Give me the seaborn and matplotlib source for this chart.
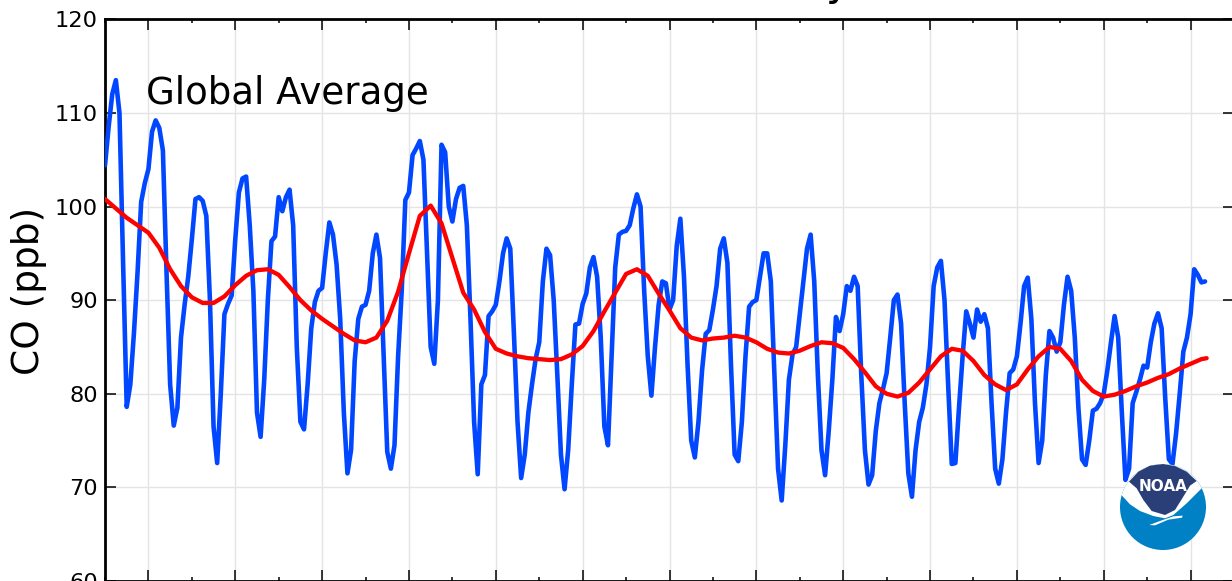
import numpy as np
import pandas as pd
import matplotlib
matplotlib.use("Agg")
import matplotlib.pyplot as plt
from matplotlib.patches import Circle, Polygon
from matplotlib.ticker import MultipleLocator
import seaborn as sns

co_2001 = [104.4, 108.5, 112, 113.5, 110, 94, 78.6, 81, 86.5, 93, 100.5, 102.5]
co_2002 = [104, 108, 109.2, 108.4, 106, 93, 81, 76.6, 78.5, 86, 89.5, 92.5]
co_2003 = [96.5, 100.8, 101, 100.6, 99, 90, 76.5, 72.6, 80, 88.5, 89.6, 90.5]
co_2004 = [96.5, 101.5, 103, 103.2, 98, 91, 78, 75.4, 81.5, 90, 96.3, 96.8]
co_2005 = [101, 99.5, 101, 101.8, 98, 85, 77, 76.2, 81, 87, 89.8, 91]
co_2006 = [91.3, 95, 98.3, 97, 93.8, 88, 78, 71.5, 74, 83.5, 88, 89.3]
co_2007 = [89.5, 91, 95, 97, 94.5, 84, 73.8, 72, 74.5, 84, 91, 100.7]
co_2008 = [101.5, 105.5, 106.2, 107, 105, 95, 85, 83.2, 90, 106.6, 105.8, 100]
co_2009 = [98.4, 100.8, 102, 102.2, 98, 88, 77, 71.4, 81, 82, 88.3, 88.8]
co_2010 = [89.5, 92, 95, 96.6, 95.5, 86.5, 77, 71, 73.5, 78, 81, 83.7]
co_2011 = [85.5, 92, 95.5, 94.8, 90, 82, 73.5, 69.8, 74, 81, 87.4, 87.5]
co_2012 = [89.6, 90.7, 93.5, 94.6, 92.5, 86, 76.5, 74.5, 84, 93.5, 97, 97.3]
co_2013 = [97.4, 98, 99.8, 101.3, 100, 91, 84, 79.8, 85, 89.5, 92, 91.8]
co_2014 = [89, 90, 95.8, 98.7, 92.5, 83, 75, 73.2, 77, 82.5, 86.4, 86.8]
co_2015 = [89, 91.5, 95.5, 96.6, 94, 83, 73.5, 72.8, 77, 84, 89.3, 89.8]
co_2016 = [90, 92.5, 95, 95, 92, 82, 72, 68.6, 74.5, 81.5, 84.2, 85]
co_2017 = [88.5, 92, 95.5, 97, 92, 82, 74, 71.3, 76, 81.5, 88.2, 86.7]
co_2018 = [88.5, 91.5, 91, 92.5, 91.5, 82, 74, 70.3, 71.3, 76, 79, 80.5]
co_2019 = [82.2, 86, 90, 90.6, 87.5, 79, 71.5, 69, 74, 77, 78.5, 81]
co_2020 = [85, 91.5, 93.5, 94.2, 90, 81, 72.5, 72.6, 78.5, 84, 88.8, 87.5]
co_2021 = [86, 89, 87.7, 88.5, 87, 79, 72, 70.4, 73, 78, 82.2, 82.6]
co_2022 = [84, 87.5, 91.5, 92.4, 88, 79, 72.6, 75, 82, 86.7, 86, 84.5]
co_2023 = [85.5, 89.5, 92.5, 91, 86, 78.5, 73, 72.4, 75, 78.2, 78.4, 79]
co_2024 = [80, 82.5, 85.5, 88.3, 86, 78, 70.8, 72, 79, 80.2, 81.5, 83]
co_2025 = [82.8, 85.5, 87.5, 88.6, 87, 79.5, 73, 72.5, 75.8, 80, 84.5, 86]
co_2026 = [88.5, 93.3, 92.7, 91.9, 92]
monthly_by_year = [co_2001, co_2002, co_2003, co_2004, co_2005, co_2006, co_2007,
                   co_2008, co_2009, co_2010, co_2011, co_2012, co_2013, co_2014,
                   co_2015, co_2016, co_2017, co_2018, co_2019, co_2020, co_2021,
                   co_2022, co_2023, co_2024, co_2025, co_2026]
first_year = 2001

# trend, one value per quarter from 2001.0, then its last point
trend = [100.8, 99.8, 98.8, 98.0, 97.2, 95.6, 93.3, 91.5, 90.3, 89.7, 89.7, 90.4,
         91.6, 92.6, 93.2, 93.3, 92.7, 91.4, 90, 88.9, 88, 87.2, 86.4, 85.7,
         85.5, 86.0, 87.8, 90.9, 95, 99, 100.1, 98.2, 94.5, 90.8, 89, 86.6,
         84.8, 84.3, 84, 83.8, 83.7, 83.6, 83.7, 84.2, 85.1, 86.7, 88.8, 90.8,
         92.8, 93.3, 92.6, 90.7, 88.9, 87, 86, 85.7, 85.9, 86, 86.2, 86,
         85.5, 84.8, 84.4, 84.3, 84.6, 85.1, 85.5, 85.4, 84.9, 83.7, 82.3, 80.8,
         80, 79.7, 80.1, 81.2, 82.6, 84, 84.8, 84.6, 83.5, 82, 81, 80.4,
         81, 82.6, 84, 85, 84.8, 83.5, 81.5, 80.3, 79.7, 79.9, 80.3, 80.8,
         81.2, 81.7, 82.1, 82.7, 83.2, 83.7]
trend_end_year = 2026.37
trend_end_value = 83.8

sns.set_theme(style="white")
plt.rcParams["font.family"] = ["DejaVu Sans"]

W, H = 1232, 581
fig = plt.figure(figsize=(W / 100, H / 100), dpi=100, facecolor="white")
ax = fig.add_axes([105 / W, 0, (1234 - 105) / W, (581 - 19.3) / H])

monthly = pd.DataFrame({
    "year": [first_year + k + m / 12 for k, vals in enumerate(monthly_by_year) for m in range(len(vals))],
    "co": [v for vals in monthly_by_year for v in vals],
})
quarterly = pd.DataFrame({
    "year": list(first_year + np.arange(len(trend)) / 4) + [trend_end_year],
    "co": trend + [trend_end_value],
})

sns.lineplot(data=monthly, x="year", y="co", color="#0047ff", lw=3.3, estimator=None,
             sort=False, ax=ax, zorder=3, solid_joinstyle="round", solid_capstyle="round")
sns.lineplot(data=quarterly, x="year", y="co", color="#ff0000", lw=3.1, estimator=None,
             sort=False, ax=ax, zorder=4, solid_joinstyle="round", solid_capstyle="round")

ax.set_xlim(2001, 2027)
ax.set_ylim(60, 120)
ax.xaxis.set_major_locator(MultipleLocator(2))
ax.xaxis.set_minor_locator(MultipleLocator(1))
ax.yaxis.set_major_locator(MultipleLocator(10))
ax.grid(True, which="major", color="#e4e4e4", lw=1.0, zorder=0)
ax.set_axisbelow(True)
ax.tick_params(axis="both", which="major", direction="in", length=8, width=1.1,
               top=True, bottom=True, left=True, right=True, color="black",
               labelsize=16.2, labelcolor="black", pad=5)
ax.tick_params(axis="x", which="minor", direction="in", length=3.2, width=1.1,
               top=True, bottom=True, color="black")
ax.tick_params(axis="x", which="major", labelbottom=False)
for s in ax.spines.values():
    s.set_visible(True)
    s.set_color("black")
    s.set_linewidth(2.0)
ax.set_xlabel("")
ax.set_ylabel("")
fig.text(29 / W, 1 - 291 / H, "CO (ppb)", rotation=90, fontsize=27, color="black",
         ha="center", va="center")
ax.text(2001.94, 110.95, "Global Average", fontsize=26.75, color="black", ha="left",
        va="baseline", zorder=5)

# bottoms of the cropped title that survive at the top edge
fig.text(519 / W, 1 + 5 / H, ",", fontsize=30, color="black", ha="left", va="baseline")
fig.text(826 / W, 1 + 5 / H, "y", fontsize=30, color="black", ha="left", va="baseline")

# NOAA logo
r = 43
logo = fig.add_axes([(1163 - r) / W, 1 - (507 + r) / H, 2 * r / W, 2 * r / H], zorder=10)
logo.set_xlim(-1, 1)
logo.set_ylim(-1, 1)
logo.axis("off")
def uv(pts):
    return [((zx - 159) / 129, (156 - zy) / 129) for zx, zy in pts]
disc = Circle((0, 0), 1, fc="#0081c6", ec="none")
logo.add_patch(disc)
white = Polygon(uv([(20, 105), (36, 122), (60, 148), (90, 168), (130, 183), (165, 190),
                    (190, 180), (230, 145), (275, 100), (300, 60), (300, 0), (10, 0)]),
                fc="white", ec="none")
logo.add_patch(white)
white.set_clip_path(disc)
navy = Polygon(uv([(57, 80), (80, 100), (100, 135), (125, 168), (165, 180), (195, 165),
                   (220, 125), (240, 92), (260, 78), (230, 50), (195, 33), (159, 27),
                   (120, 32), (85, 50)]), fc="#2a3f78", ec="none")
logo.add_patch(navy)
swoosh = Polygon(uv([(118, 210), (150, 198), (190, 184), (218, 182), (216, 188), (175, 194),
                     (135, 211)]), fc="white", ec="none")
logo.add_patch(swoosh)
logo.text(-0.0, 0.47, "NOAA", color="white", fontsize=11, fontweight="bold",
          family=["Liberation Sans Narrow", "DejaVu Sans"], ha="center", va="center")

fig.savefig("out.png", dpi=100)
